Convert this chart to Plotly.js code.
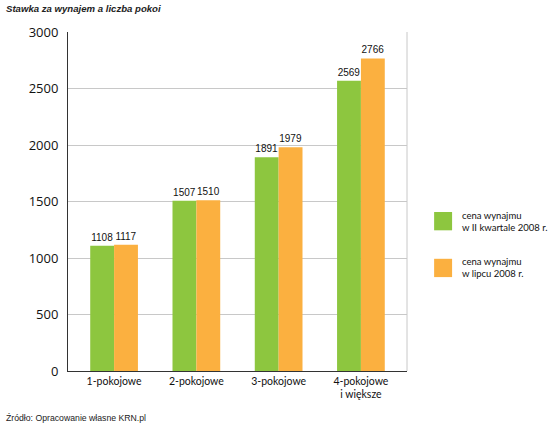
<!DOCTYPE html>
<html><head><meta charset="utf-8">
<script src="https://cdn.plot.ly/plotly-3.0.1.min.js"></script>
<style>body{margin:0;background:#fff}#c{width:550px;height:429px}</style>
</head><body><div id="c"></div>
<script>
var categories = ['1-pokojowe', '2-pokojowe', '3-pokojowe', '4-pokojowe<br>i większe'];
var seriesNames = ['cena wynajmu<br>w II kwartale 2008 r.', 'cena wynajmu<br>w lipcu 2008 r.'];
var seriesColors = ['#8dc63f', '#fbb040'];
var valuesQ2 = [1108, 1507, 1891, 2569];
var valuesJuly = [1117, 1510, 1979, 2766];
var yTicks = [0, 500, 1000, 1500, 2000, 2500, 3000];

var font = 'Open Sans, DejaVu Sans, sans-serif';
var narrow = 'Lato, Open Sans, sans-serif';
var labelFont = 'Liberation Sans, Arial, sans-serif';
var traces = [
  {type:'bar', x:categories, y:valuesQ2, name:seriesNames[0], marker:{color:seriesColors[0]},
   text:valuesQ2.map(String), textposition:'outside', cliponaxis:false,
   textfont:{size:10, color:'#111', family:labelFont}},
  {type:'bar', x:categories, y:valuesJuly, name:seriesNames[1], marker:{color:seriesColors[1]},
   text:valuesJuly.map(String), textposition:'outside', cliponaxis:false,
   textfont:{size:10, color:'#111', family:labelFont}}
];

var shapes = [{type:'line', xref:'paper', yref:'paper', x0:1, x1:1, y0:0, y1:1,
               line:{color:'#c8c8c8', width:1}}];
var annotations = [
  {xref:'paper', yref:'paper', x:-0.189, y:1.068, xanchor:'left', yanchor:'middle', showarrow:false,
   text:'<b><i>Stawka za wynajem a liczba pokoi</i></b>',
   font:{family:'Liberation Sans, Arial, sans-serif', size:9.6, color:'#222'}},
  {xref:'paper', yref:'paper', x:-0.189, y:-0.139, xanchor:'left', yanchor:'middle', showarrow:false,
   text:'Źródło: Opracowanie własne KRN.pl',
   font:{family:'Liberation Sans, Arial, sans-serif', size:8.7, color:'#222'}}
];
var legY = [0.442, 0.304];
for (var i = 0; i < seriesNames.length; i++) {
  shapes.push({type:'rect', xref:'paper', yref:'paper', x0:1.080, x1:1.133,
               y0:legY[i]-0.027, y1:legY[i]+0.027, line:{width:0}, fillcolor:seriesColors[i]});
  annotations.push({xref:'paper', yref:'paper', x:1.157, y:legY[i], xanchor:'left', yanchor:'middle',
                    align:'left', showarrow:false, text:seriesNames[i],
                    font:{family:narrow, size:9.5, color:'#111'}});
}

var layout = {
  width:550, height:429,
  margin:{l:68, r:143, t:32, b:58},
  paper_bgcolor:'#fff', plot_bgcolor:'#fff',
  barmode:'group', bargap:0.42, bargroupgap:0,
  font:{family:font, size:12, color:'#111'},
  showlegend:false,
  xaxis:{range:[-0.56, 3.56], showline:true, linecolor:'#333', linewidth:1, ticks:'', showgrid:false,
         tickfont:{size:10.5, family:narrow, color:'#111'}, fixedrange:true},
  yaxis:{range:[0,3000], tickvals:yTicks, ticktext:yTicks.map(String), showgrid:true,
         gridcolor:'#c8c8c8', showline:true, linecolor:'#333', linewidth:1, ticks:'',
         zeroline:false, tickfont:{size:13, family:font, color:'#111'},
         ticklabelstandoff:6},
  shapes:shapes,
  annotations:annotations
};
Plotly.newPlot('c', traces, layout, {staticPlot:true, displayModeBar:false});
</script></body></html>
